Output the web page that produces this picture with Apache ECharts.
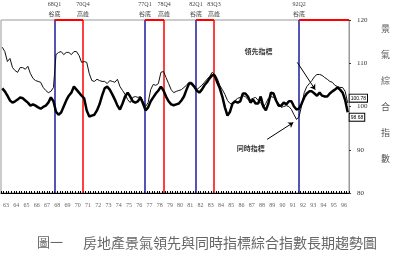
<!DOCTYPE html>
<html><head><meta charset="utf-8">
<script src="https://cdn.jsdelivr.net/npm/echarts@6/dist/echarts.min.js"></script>
<style>html,body{margin:0;padding:0;background:#fff}#c{width:400px;height:258px}</style>
</head><body><div id="c"></div>
<script>
// Year labels (ROC years 63..96)
const years = ['63','64','65','66','67','68','69','70','71','72','73','74','75','76','77','78','79','80','81','82','83','84','85','86','87','88','89','90','91','92','93','94','95','96'];
const startYear = 63;
const endYear = 97;
// Quarterly values, 63Q1 .. 96Q4
const leading = [
113.7,112.7,110.4,111.1,109.0,108.3,107.9,109.0,109.0,108.6,109.3,107.6,106.5,106.0,105.8,105.6,104.4,103.7,103.2,103.5,
104.4,112.0,112.5,112.7,112.0,112.5,112.5,112.0,112.7,112.7,111.8,110.2,110.4,110.2,107.6,106.0,105.8,106.3,106.0,105.8,
105.8,105.3,106.0,105.8,105.6,106.3,104.6,103.7,102.8,101.6,100.9,102.1,102.3,102.1,102.3,101.2,100.0,100.9,103.9,105.1,
104.9,105.3,107.9,108.1,106.7,105.3,103.9,103.2,103.5,103.7,103.9,104.4,104.9,105.6,105.6,104.9,103.9,104.4,104.9,105.6,
106.3,106.9,107.9,107.4,106.5,104.9,103.9,102.8,101.4,100.7,100.5,101.4,101.9,102.1,102.5,102.3,101.6,101.6,101.9,102.1,
101.4,100.9,99.8,100.7,101.9,102.3,102.1,101.4,100.7,99.8,100.0,100.2,100.0,99.3,98.1,97.0,97.7,100.2,103.2,104.6,
105.3,106.0,106.9,107.4,107.4,107.2,106.7,106.3,105.8,105.6,104.9,104.6,104.4,104.4,103.5,100.78
];
const coincident = [
104.2,103.5,102.5,101.4,100.9,101.2,101.6,102.1,101.9,101.4,100.9,100.2,100.5,100.2,99.8,99.5,99.9,100.2,100.9,102.1,
101.2,98.8,98.1,98.6,100.0,101.4,102.5,103.2,104.6,103.9,103.2,102.5,101.9,99.1,97.7,97.9,98.1,99.1,100.5,102.5,
104.2,104.6,103.9,102.8,101.6,100.2,99.3,100.7,102.3,103.2,102.3,101.2,100.9,101.2,102.1,100.7,99.1,99.8,101.2,102.1,
103.0,103.7,104.6,103.7,102.3,101.2,100.5,100.3,100.5,100.7,101.4,102.3,103.9,105.3,105.3,104.6,103.7,103.2,103.9,104.9,
105.6,106.5,107.2,107.2,105.6,104.2,102.3,99.8,97.9,98.8,100.7,101.2,100.9,101.2,103.0,103.0,102.3,100.9,101.6,100.7,
100.7,102.3,100.0,99.1,100.7,103.2,103.0,101.4,100.2,100.2,100.9,100.5,101.2,101.2,100.0,99.3,99.5,100.7,102.1,103.0,
103.5,103.5,103.0,102.5,103.2,102.5,102.3,102.3,103.0,103.5,103.9,104.4,103.9,103.2,101.5,98.68
];
// Turning points (time in years, label, kind)
const turnTimes  = [68.23, 71.01, 77.07, 78.93, 82.05, 83.81, 92.12];
const turnLabels = ['68Q1','70Q4','77Q1','78Q4','82Q1','83Q3','92Q2'];
const turnKinds  = ['谷底','高峰','谷底','高峰','谷底','高峰','谷底'];
const yTicks = [80, 90, 100, 110, 120];

const tOf = i => startYear + (i + 0.5) / 4;
const leadData = leading.map((v, i) => [tOf(i), v]);
const coinData = coincident.map((v, i) => [tOf(i), v]);

const vLines = turnTimes.map((t, k) => ({
  xAxis: t,
  lineStyle: { color: turnKinds[k] === '谷底' ? '#1c1c9c' : '#ff0000', width: 1.5, type: 'solid' },
  label: { show: true, position: 'end', formatter: turnLabels[k] + '\n' + turnKinds[k],
           fontSize: 6, color: '#444', lineHeight: 10, distance: 1, fontFamily: 'Liberation Serif, Noto Sans CJK TC' }
}));
// expansion segments on the top border
const seg = [];
for (let k = 0; k < turnTimes.length; k += 2) {
  const t2 = k + 1 < turnTimes.length ? turnTimes[k + 1] : endYear;
  seg.push([{ coord: [turnTimes[k], 120] }, { coord: [t2, 120] }]);
}
const segLines = seg.map(p => [Object.assign({}, p[0], { lineStyle: { color: '#ff0000', width: 2, type: 'solid' } }), p[1]]);

const arrows = [
  [{ coord: [91.95, 110.2] }, { coord: [93.7, 103.9] }],
  [{ coord: [89.0, 92.4] }, { coord: [91.56, 96.3] }]
];

const chart = echarts.init(document.getElementById('c'), null, { renderer: 'canvas' });
chart.setOption({
  animation: false,
  backgroundColor: '#fff',
  grid: { left: 1, right: 51, top: 20, bottom: 65, show: true, borderColor: '#999', borderWidth: 1 },
  xAxis: [
    { type: 'value', min: startYear, max: endYear, interval: 0.25,
      axisLine: { show: true, lineStyle: { color: '#000', width: 1 } },
      axisTick: { show: true, inside: true, length: 2, lineStyle: { color: '#000' } },
      axisLabel: { show: false }, splitLine: { show: false } },
    { type: 'category', data: years, boundaryGap: true, position: 'bottom',
      axisLine: { show: false }, axisTick: { show: false },
      axisLabel: { fontSize: 6, color: '#666', margin: 9, interval: 0, fontFamily: 'Liberation Serif' } }
  ],
  yAxis: { type: 'value', position: 'right', min: 80, max: 120, interval: 10,
    axisLine: { show: true, lineStyle: { color: '#999' } },
    axisTick: { show: true, length: 2, lineStyle: { color: '#333' } },
    axisLabel: { fontSize: 7, color: '#333', margin: 8, fontFamily: 'Liberation Serif',
                 formatter: v => yTicks.includes(v) ? String(v) : '' },
    splitLine: { show: false } },
  graphic: [
    { type: 'text', left: 381, top: 16, style: { text: '景\n氣\n綜\n合\n指\n數', fontSize: 9, lineHeight: 26, fill: '#555', fontFamily: 'Noto Sans CJK TC' } },
    { type: 'text', left: 37, top: 236, style: { text: '圖一', fontSize: 13, fill: '#666', fontFamily: 'Noto Sans CJK TC' } },
    { type: 'text', left: 83, top: 236, style: { text: '房地產景氣領先與同時指標綜合指數長期趨勢圖', fontSize: 14, fill: '#666', fontFamily: 'Noto Sans CJK TC' } }
  ],
  series: [
    { name: '領先指標', type: 'line', data: leadData, showSymbol: false, smooth: false,
      lineStyle: { color: '#111', width: 1 }, z: 5,
      endLabel: { show: true, formatter: p => p.value[1].toFixed(2), fontSize: 5, color: '#000',
        borderColor: '#000', borderWidth: 1, padding: [1, 1], backgroundColor: '#fff', offset: [1, -5], distance: 1 },
      markLine: { silent: true, symbol: 'none', animation: false, data: vLines.concat(segLines) } },
    { name: '同時指標', type: 'line', data: coinData, showSymbol: false,
      lineStyle: { color: '#000', width: 2.5 }, z: 6,
      endLabel: { show: true, formatter: p => p.value[1].toFixed(2), fontSize: 5, color: '#000',
        borderColor: '#000', borderWidth: 1, padding: [1, 1], backgroundColor: '#fff', offset: [1, 5], distance: 1 },
      markLine: { silent: true, symbol: ['none', 'arrow'], symbolSize: 5, animation: false,
        lineStyle: { color: '#000', width: 1, type: 'solid' }, label: { show: false }, data: arrows } },
    { type: 'scatter', symbolSize: 0, silent: true, z: 10,
      data: [[88.15, 112.7, '領先指標'], [87.4, 90.3, '同時指標']],
      label: { show: true, position: 'inside', formatter: p => p.value[2], fontSize: 7, fontWeight: 'bold', color: '#000', fontFamily: 'Noto Sans CJK TC' } }
  ]
});
</script></body></html>
